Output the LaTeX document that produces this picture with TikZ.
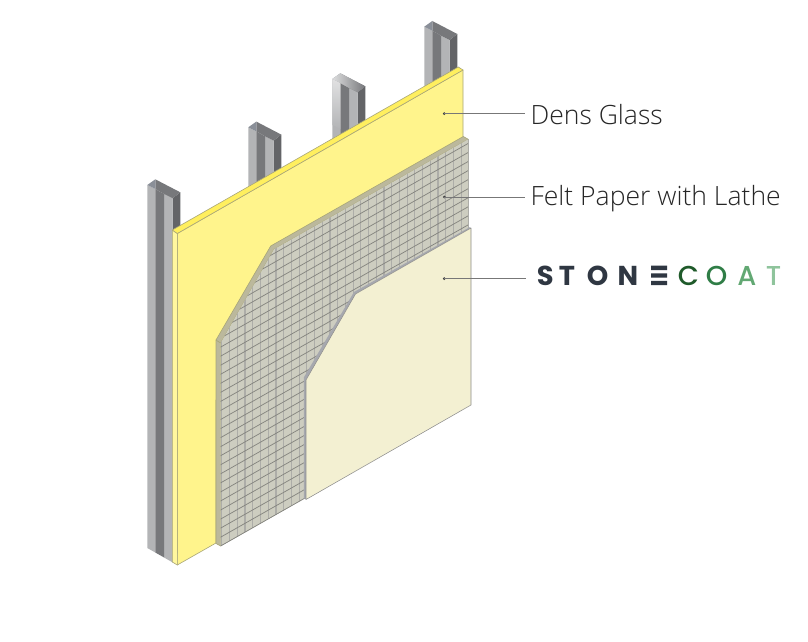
\documentclass[tikz,border=0pt]{standalone}
\usepackage{fontspec}
\setmainfont{Open Sans Light}
\newfontfamily\logobold{Poppins}[UprightFont=* Bold]
\newfontfamily\logomed{Poppins}[UprightFont=* Medium]
\definecolor{ylfront}{HTML}{FFF48C}
\definecolor{yltop}{HTML}{FFEF5E}
\definecolor{ylside}{HTML}{FFF79E}
\definecolor{ylline}{HTML}{A8A678}
\definecolor{feltface}{HTML}{CDCDC0}
\definecolor{feltside}{HTML}{BBB89C}
\definecolor{feltgrid}{HTML}{85857F}
\definecolor{feltbar}{HTML}{ADADA8}
\definecolor{stoneface}{HTML}{F3F0D2}
\definecolor{stonerim}{HTML}{A6A8AE}
\definecolor{studlight}{HTML}{B3B4B6}
\definecolor{studmid}{HTML}{77787B}
\definecolor{studdark}{HTML}{636467}
\definecolor{studtop}{HTML}{8A8F98}
\definecolor{leader}{HTML}{777777}
\definecolor{logoink}{HTML}{2F3742}
\definecolor{logoa}{HTML}{1F5A2A}
\definecolor{logob}{HTML}{2F7D46}
\definecolor{logoc}{HTML}{62A873}
\definecolor{logod}{HTML}{8FC49C}
\tikzset{
  thinedge/.style={draw=ylline,line width=0.45pt,line join=round},
  leaderline/.style={draw=leader,line width=0.7pt},
  leaderdot/.style={circle,fill=black!75,inner sep=0pt,minimum size=2.2pt},
  calllabel/.style={anchor=base west,inner xsep=3.75pt,inner ysep=0pt,font=\fontsize{19.9}{24}\selectfont,text=black!85},
  logoS/.style={anchor=base,inner sep=0pt,font=\logobold\fontsize{20.5}{24}\selectfont,text=logoink},
  logoT/.style={anchor=base,inner sep=0pt,font=\logomed\fontsize{20.5}{24}\selectfont},
}
\newcommand{\studshape}[3]{%
  \begin{scope}[shift={(#1,#2)}]
    \fill[studdark] (25.3,13.3) -- (33,7.3) -- (33,#3) -- (25.3,#3+14.4) -- cycle;
    \fill[studlight] (0,0) -- (8,4) -- (8,#3+4.5) -- (0,#3) -- cycle;
    \fill[studmid] (8,4) -- (17.3,9.3) -- (17.3,#3+9.8) -- (8,#3+4.5) -- cycle;
    \fill[studlight] (17.3,9.3) -- (25.3,13.3) -- (25.3,#3+14.4) -- (17.3,#3+9.8) -- cycle;
    \fill[studmid] (8,-5.7) -- (33,7.3) -- (25.3,13.3) -- (17.3,9.3) -- (8,4) -- cycle;
    \fill[studtop] (0,0) -- (8,-5.7) -- (8,4) -- cycle;
  \end{scope}}
\begin{document}
\begin{tikzpicture}[x=0.75pt,y=-0.75pt]
\useasboundingbox (0,0) rectangle (808,642);
\fill[white] (0,0) rectangle (808,642);
% studs
\studshape{424.3}{26.7}{100}
\studshape{332.3}{79}{100}
\begin{scope}[shift={(332.3,79)}]
  \shade[top color=white!60!studlight,bottom color=studlight] (0,0) -- (8,4) -- (8,50) -- (0,46) -- cycle;
  \shade[left color=white!55!studlight,right color=studmid] (0,0) -- (8,-5.7) -- (33,7.3) -- (25.3,13.3) -- (17.3,9.3) -- (8,4) -- cycle;
\end{scope}
\studshape{248.3}{127.3}{100}
\studshape{147.3}{185}{363}
% dens glass
\path[fill=ylfront,thinedge] (177.3,233.5) -- (463,70) -- (463,140) -- (216,400) -- (216,543) -- (177.3,565) -- cycle;
\path[fill=ylside,thinedge] (172.3,230) -- (177.3,233.5) -- (177.3,565) -- (172.3,562) -- cycle;
\path[fill=yltop,thinedge] (172.3,230) -- (458.3,67) -- (463,70) -- (177.3,233.5) -- cycle;
% felt paper
\path[fill=feltside,thinedge] (216,340) -- (220.7,343) -- (220.7,546) -- (216,543.5) -- cycle;
\path[fill=feltside,thinedge] (216,340) -- (270.7,246) -- (463.3,136.5) -- (468.3,139.3) -- (274,249.3) -- (220.7,343) -- cycle;
\fill[feltface] (220.7,343) -- (274,249.3) -- (468.3,139.3) -- (468.3,300) -- (306,460) -- (306,497.5) -- (220.7,546) -- cycle;
\begin{scope}
  \clip (220.7,343) -- (274,249.3) -- (468.3,139.3) -- (468.3,300) -- (306,460) -- (306,497.5) -- (220.7,546) -- cycle;
  \foreach \k in {0,...,32} {
    \draw[feltbar,line width=0.85pt] ({221.9+\k*7.72},120) -- ({221.9+\k*7.72},560);
  }
  \foreach \k in {0,...,50} {
    \draw[feltgrid,line width=0.55pt] (215,{549.4-\k*9.05}) -- (475,{549.4-\k*9.05-147.4});
  }
\end{scope}
\draw[feltgrid,line width=0.5pt] (220.7,546) -- (306,497.5);
\draw[feltbar,line width=0.8pt] (468.3,139.3) -- (468.3,228);
% stone coat
\fill[stonerim] (303.8,377.5) -- (354,292) -- (469.8,227.2) -- (471,228) -- (355.5,294) -- (306,380) -- (306,499.5) -- (303.8,498) -- cycle;
\path[fill=stoneface,draw=black!45,line width=0.4pt,line join=round] (306,380) -- (355.5,294) -- (471,228) -- (471,405) -- (306,499.5) -- cycle;
% callouts
\node[leaderdot] (dotglass) at (444.3,113.6) {};
\node[leaderdot] (dotfelt) at (444.3,197) {};
\node[leaderdot] (dotstone) at (444.3,278.6) {};
\node[calllabel] (labglass) at (525.3,124.8) {Dens Glass};
\node[calllabel] (labfelt) at (525.3,205.2) {Felt Paper with Lathe};
\coordinate (endstone) at (525.5,278.6);
\draw[leaderline] (dotglass.center) -- (dotglass.center -| labglass.west);
\draw[leaderline] (dotfelt.center) -- (dotfelt.center -| labfelt.west);
\draw[leaderline] (dotstone.center) -- (endstone);
% logo
\node[logoS] (ls) at (545.3,285) {S};
\node[logoS] (lt) at (567,285) {T};
\node[logoS] (lo) at (597.5,285) {O};
\node[logoS] (ln) at (628,285) {N};
\fill[logoink] (651,265.7) rectangle (667,270) (651,273.3) rectangle (667,277.5) (651,280.9) rectangle (667,285);
\node[logoT,text=logoa] (lc) at (688.5,285) {C};
\node[logoT,text=logob] (lo2) at (716.5,285) {O};
\node[logoT,text=logoc] (la) at (747,285) {A};
\node[logoT,text=logod] (lt2) at (773.5,285) {T};
\end{tikzpicture}
\end{document}
